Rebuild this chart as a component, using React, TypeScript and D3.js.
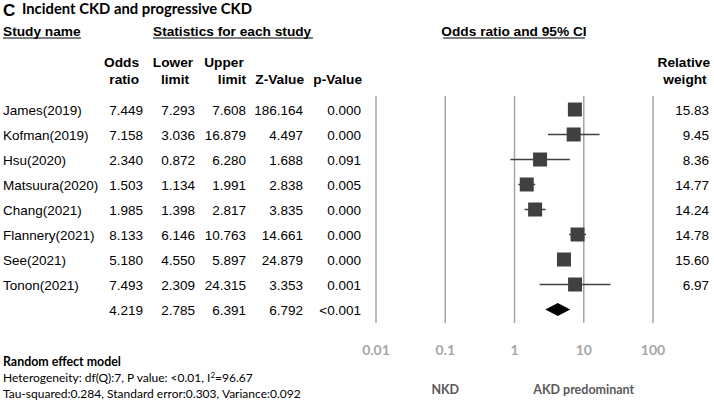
import * as d3 from 'd3';

const studies = ['James(2019)', 'Kofman(2019)', 'Hsu(2020)', 'Matsuura(2020)', 'Chang(2021)', 'Flannery(2021)', 'See(2021)', 'Tonon(2021)'];
const oddsRatio = [7.449, 7.158, 2.34, 1.503, 1.985, 8.133, 5.18, 7.493];
const lowerLimit = [7.293, 3.036, 0.872, 1.134, 1.398, 6.146, 4.55, 2.309];
const upperLimit = [7.608, 16.879, 6.28, 1.991, 2.817, 10.763, 5.897, 24.315];
const zValues = ['186.164', '4.497', '1.688', '2.838', '3.835', '14.661', '24.879', '3.353'];
const pValues = ['0.000', '0.000', '0.091', '0.005', '0.000', '0.000', '0.000', '0.001'];
const weights = ['15.83', '9.45', '8.36', '14.77', '14.24', '14.78', '15.60', '6.97'];

const summary = { or: 4.219, lo: 2.785, hi: 6.391, z: '6.792', p: '<0.001' };
const ticks = [0.01, 0.1, 1, 10, 100];
const tickLabels = ['0.01', '0.1', '1', '10', '100'];

const W = 714;
const H = 401;
const ARIAL = '"Liberation Sans", Arial, sans-serif';
const CAL = 'Lato, "Open Sans", sans-serif';

// column right edges for numbers
const COLS = { or: 143, lo: 195, hi: 246, z: 303, p: 361, w: 709 };

export default function App() {
  const x = d3.scaleLog().domain([0.01, 100]).range([376, 653]);
  const y = d3.scaleLinear().domain([0, 8]).range([109.5, 309.5]);
  const fmt = d3.format('.3f');
  const sq = 14;

  const numRow = (vals: string[], i: number) =>
    vals.map((v, k) => (
      <text key={k} x={[COLS.or, COLS.lo, COLS.hi, COLS.z, COLS.p][k]} y={y(i) + 5} textAnchor="end">{v}</text>
    ));

  return (
    <div style={{ position: 'absolute', left: 0, top: 0 }}>
      <svg width={W} height={H} viewBox={`0 0 ${W} ${H}`} style={{ display: 'block', background: '#fff' }}>
        {/* title */}
        <text x={3} y={16} fontFamily={ARIAL} fontWeight="bold" fontSize={17}>C</text>
        <text x={22} y={13.5} fontFamily={CAL} fontWeight="bold" fontSize={14.8}>Incident CKD and progressive CKD</text>

        {/* group headers */}
        <g fontFamily={ARIAL} fontWeight="bold" fontSize={13.7}>
          <text x={3} y={35.5}>Study name</text>
          <line x1={3} x2={81} y1={38} y2={38} stroke="#000" strokeWidth={1} />
          <text x={153} y={35.5}>Statistics for each study</text>
          <line x1={153} x2={313} y1={38} y2={38} stroke="#000" strokeWidth={1} />
          <text x={514} y={35.5} textAnchor="middle">Odds ratio and 95% CI</text>
          <line x1={443} x2={585} y1={38} y2={38} stroke="#000" strokeWidth={1} />

          <text x={139} y={67} textAnchor="end">Odds</text>
          <text x={139} y={84} textAnchor="end">ratio</text>
          <text x={173} y={67} textAnchor="middle">Lower</text>
          <text x={175} y={84} textAnchor="middle">limit</text>
          <text x={224} y={67} textAnchor="middle">Upper</text>
          <text x={246} y={84} textAnchor="end">limit</text>
          <text x={304} y={84} textAnchor="end">Z-Value</text>
          <text x={362} y={84} textAnchor="end">p-Value</text>
          <text x={710} y={67} textAnchor="end">Relative</text>
          <text x={685} y={84} textAnchor="middle">weight</text>
        </g>

        {/* grid lines */}
        {ticks.map((t) => (
          <line key={t} x1={x(t)} x2={x(t)} y1={96} y2={323} stroke="#a6a6a6" strokeWidth={1.5} />
        ))}

        {/* table rows */}
        <g fontFamily={ARIAL} fontSize={13.5} fill="#000">
          {studies.map((s, i) => (
            <g key={s}>
              <text x={3} y={y(i) + 5}>{s}</text>
              {numRow([fmt(oddsRatio[i]), fmt(lowerLimit[i]), fmt(upperLimit[i]), zValues[i], pValues[i]], i)}
              <text x={COLS.w} y={y(i) + 5} textAnchor="end">{weights[i]}</text>
            </g>
          ))}
          {numRow([fmt(summary.or), fmt(summary.lo), fmt(summary.hi), summary.z, summary.p], 8)}
        </g>

        {/* CI lines and squares */}
        {studies.map((s, i) => (
          <g key={s}>
            <line x1={x(lowerLimit[i])} x2={x(upperLimit[i])} y1={y(i)} y2={y(i)} stroke="#404040" strokeWidth={1.5} />
            <rect x={x(oddsRatio[i]) - sq / 2} y={y(i) - sq / 2} width={sq} height={sq} fill="#404040" />
          </g>
        ))}

        {/* summary diamond */}
        <path
          d={`M${x(summary.lo)},${y(8)} L${x(summary.or)},${y(8) - 6.5} L${x(summary.hi)},${y(8)} L${x(summary.or)},${y(8) + 6.5} Z`}
          fill="#000"
        />

        {/* axis labels */}
        <g fontFamily={CAL} fontWeight="bold" fontSize={14} fill="#a6a6a6" textAnchor="middle">
          {ticks.map((t, i) => (
            <text key={t} x={x(t)} y={355}>{tickLabels[i]}</text>
          ))}
        </g>
        <g fontFamily={CAL} fontWeight="bold" fontSize={12.5} fill="#595959" textAnchor="middle">
          <text x={x(0.1)} y={394}>NKD</text>
          <text x={(x(1) + x(100)) / 2} y={394}>AKD predominant</text>
        </g>

        {/* footnote */}
        <g fontFamily={CAL} fontSize={12} fill="#000">
          <text x={3} y={366} fontWeight="bold" fontSize={12.4}>Random effect model</text>
          <text x={3} y={382}>
            Heterogeneity: df(Q):7, P value: &lt;0.01, I<tspan dy={-4} fontSize={8}>2</tspan><tspan dy={4}>=96.67</tspan>
          </text>
          <text x={3} y={398}>Tau-squared:0.284, Standard error:0.303, Variance:0.092</text>
        </g>
      </svg>
    </div>
  );
}
